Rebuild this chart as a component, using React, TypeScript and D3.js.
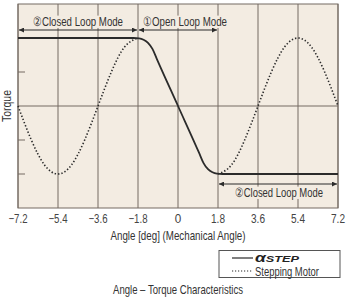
import React from "react";
import * as d3 from "d3";

const xTicks = [-7.2, -5.4, -3.6, -1.8, 0, 1.8, 3.6, 5.4, 7.2];
const yTicks = [-1, -0.5, 0.5];

// αSTEP torque curve (angle deg, relative torque)
const alphaAngles = [-7.2, -2.0, -1.75, -1.55, -1.35, -1.15, -0.95, 0, 0.95, 1.15, 1.35, 1.55, 1.75, 2.0, 7.2];
const alphaTorque = [1, 1, 0.995, 0.975, 0.93, 0.84, 0.69, 0, -0.69, -0.84, -0.93, -0.975, -0.995, -1, -1];

// Stepping motor torque curve (left and right segments)
const stepLeftAngles = [-7.2, -6.6, -6.0, -5.4, -4.8, -4.2, -3.6, -3.0, -2.4, -1.8];
const stepLeftTorque = [0, -0.5, -0.87, -1, -0.87, -0.5, 0, 0.5, 0.87, 1];
const stepRightAngles = [1.8, 2.4, 3.0, 3.6, 4.2, 4.8, 5.4, 6.0, 6.6, 7.2];
const stepRightTorque = [-1, -0.87, -0.5, 0, 0.5, 0.87, 1, 0.87, 0.5, 0];

const modeLabels = ["②Closed Loop Mode", "①Open Loop Mode", "②Closed Loop Mode"];

const FONT = "'Liberation Sans', Arial, sans-serif";
const BG = "#f3ece2";

function NText(props: {
  x: number;
  y: number;
  w: number;
  size?: number;
  anchor?: "start" | "middle" | "end";
  fill?: string;
  knockout?: boolean;
  children: React.ReactNode;
}) {
  const { x, y, w, size = 12.5, anchor = "middle", fill = "#333", knockout = false, children } = props;
  const left = anchor === "middle" ? x - w / 2 : anchor === "end" ? x - w : x;
  return (
    <g>
      {knockout && <rect x={left - 1} y={y - size * 0.8} width={w + 2} height={size * 0.95} fill={BG} />}
      <text x={left} y={y} fontSize={size} fill={fill} textLength={w} lengthAdjust="spacingAndGlyphs">
        {children}
      </text>
    </g>
  );
}

export default function App() {
  const x = d3.scaleLinear().domain([-7.2, 7.2]).range([18, 338]);
  const y = d3.scaleLinear().domain([-1.5, 1.5]).range([208, 4]);

  const line = d3
    .line<[number, number]>()
    .x((d) => x(d[0]))
    .y((d) => y(d[1]))
    .curve(d3.curveMonotoneX);
  const sineLine = d3
    .line<[number, number]>()
    .x((d) => x(d[0]))
    .y((d) => y(d[1]))
    .curve(d3.curveNatural);

  const alphaPts = alphaAngles.map((a, i) => [a, alphaTorque[i]] as [number, number]);
  const leftPts = stepLeftAngles.map((a, i) => [a, stepLeftTorque[i]] as [number, number]);
  const rightPts = stepRightAngles.map((a, i) => [a, stepRightTorque[i]] as [number, number]);

  const gridColor = "#756b62";
  const ink = "#2b2b2b";
  const arrowTop = 30;
  const arrowBottom = 184;

  const tickText = (t: number) => (t < 0 ? `−${Math.abs(t)}` : `${t}`);
  const tickW = (t: number) => (t === 0 ? 6.5 : t < 0 ? 19 : 14);

  return (
    <svg
      width={350}
      height={300}
      style={{ position: "absolute", left: 0, top: 0, background: "#fff" }}
      fontFamily={FONT}
    >
      <defs>
        <marker id="ah" viewBox="0 0 10 10" refX="10" refY="5" markerWidth="8" markerHeight="5" orient="auto-start-reverse" markerUnits="userSpaceOnUse">
          <path d="M0,0 L10,5 L0,10 z" fill={ink} />
        </marker>
      </defs>
      {/* plot background */}
      <rect x={x(-7.2)} y={y(1.5)} width={x(7.2) - x(-7.2)} height={y(-1.5) - y(1.5)} fill={BG} />
      {/* vertical grid */}
      {xTicks.map((t) => (
        <line key={t} x1={x(t)} x2={x(t)} y1={y(1.5)} y2={y(-1.5)} stroke={gridColor} strokeWidth={1} />
      ))}
      {/* zero line */}
      <line x1={x(-7.2)} x2={x(7.2)} y1={y(0)} y2={y(0)} stroke={gridColor} strokeWidth={1} />
      {/* border */}
      <rect x={x(-7.2)} y={y(1.5)} width={x(7.2) - x(-7.2)} height={y(-1.5) - y(1.5)} fill="none" stroke={gridColor} strokeWidth={1} />
      {/* y ticks */}
      {yTicks.map((t) => (
        <line key={t} x1={x(-7.2)} x2={x(-7.2) + 7} y1={y(t)} y2={y(t)} stroke={gridColor} strokeWidth={1} />
      ))}
      {/* curves */}
      <path d={sineLine(leftPts) || ""} fill="none" stroke={ink} strokeWidth={1.6} strokeDasharray="1.4,2" />
      <path d={sineLine(rightPts) || ""} fill="none" stroke={ink} strokeWidth={1.6} strokeDasharray="1.4,2" />
      <path d={line(alphaPts) || ""} fill="none" stroke={ink} strokeWidth={1.8} />
      {/* mode arrows */}
      <line x1={x(-7.2) + 1} x2={x(-1.8) - 1} y1={arrowTop} y2={arrowTop} stroke={ink} strokeWidth={1} markerStart="url(#ah)" markerEnd="url(#ah)" />
      <line x1={x(-1.8) + 1} x2={x(1.8) - 1} y1={arrowTop} y2={arrowTop} stroke={ink} strokeWidth={1} markerStart="url(#ah)" markerEnd="url(#ah)" />
      <line x1={x(1.8) + 1} x2={x(7.2) - 1} y1={arrowBottom} y2={arrowBottom} stroke={ink} strokeWidth={1} markerStart="url(#ah)" markerEnd="url(#ah)" />
      <NText x={78} y={26} w={90} size={13} knockout>{modeLabels[0]}</NText>
      <NText x={143} y={26} w={84} size={13} anchor="start" knockout>{modeLabels[1]}</NText>
      <NText x={279} y={197} w={88} size={13} knockout>{modeLabels[2]}</NText>
      {/* y label */}
      <g transform={`translate(11,${y(0)}) rotate(-90)`}>
        <NText x={0} y={0} w={32} size={12.5}>Torque</NText>
      </g>
      {/* x tick labels */}
      {xTicks.map((t) => (
        <NText key={t} x={x(t)} y={223} w={tickW(t)} size={12.5} fill="#444">
          {tickText(t)}
        </NText>
      ))}
      <NText x={178} y={240} w={135} size={13}>Angle [deg] (Mechanical Angle)</NText>
      {/* legend */}
      <rect x={219} y={250.5} width={121} height={27} fill="#fff" stroke="#555" strokeWidth={1} />
      <line x1={232} x2={253} y1={258} y2={258} stroke={ink} strokeWidth={1.2} />
      <text x={255} y={262} fill="#222" fontStyle="italic" fontWeight="bold" textLength={44} lengthAdjust="spacingAndGlyphs">
        <tspan fontSize={13}>α</tspan>
        <tspan fontSize={9.5}>STEP</tspan>
      </text>
      <line x1={232} x2={252} y1={271} y2={271} stroke={ink} strokeWidth={1.2} strokeDasharray="1.2,1.8" />
      <NText x={255} y={275.5} w={64} size={12} anchor="start">Stepping Motor</NText>
      <NText x={178} y={294} w={130} size={13}>Angle – Torque Characteristics</NText>
    </svg>
  );
}
